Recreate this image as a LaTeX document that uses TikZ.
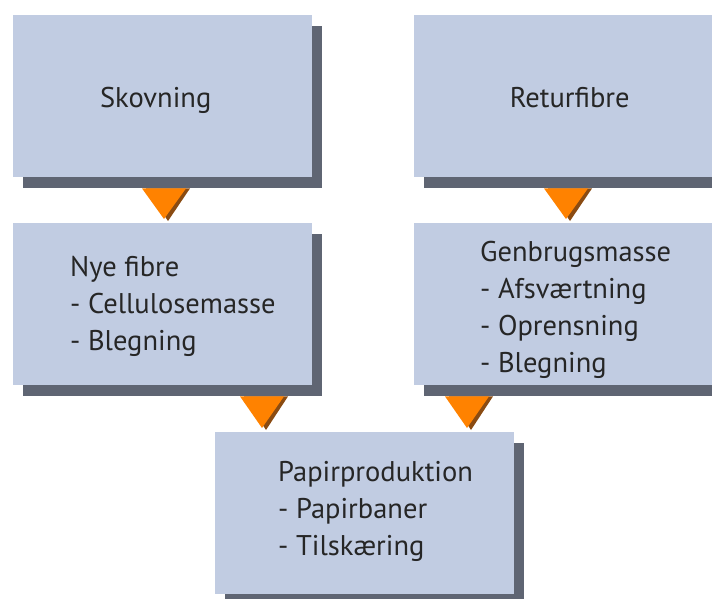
\documentclass[tikz,border=0pt]{standalone}
\usepackage{fontspec}
\setmainfont{PT Sans}
\usetikzlibrary{calc,shadows}
\definecolor{boksblaa}{HTML}{C1CCE2}
\definecolor{skygge}{HTML}{5F6573}
\definecolor{pilorange}{HTML}{FF8200}
\definecolor{pilbrun}{HTML}{8A4B12}
\definecolor{tekstgraa}{HTML}{262626}
\begin{document}
\begin{tikzpicture}[x=1pt, y=-1pt,
    boks/.style={fill=boksblaa, minimum width=299pt, minimum height=162pt,
      anchor=north west, inner sep=0pt,
      general shadow={fill=skygge, shadow xshift=10pt, shadow yshift=-11pt}},
    tekst/.style={text=tekstgraa, align=left, inner sep=0pt,
      font=\fontsize{28.5}{37}\selectfont},
    pil/.style={fill=pilorange},
    pilkant/.style={fill=pilbrun}]
    \useasboundingbox (0,0) rectangle (712,599);
    \clip (0,0) rectangle (712,599);
    % Các hộp
    \node[boks] (skov) at (13,15) {};
    \node[boks] (retur) at (414,15) {};
    \node[boks] (nye) at (13,223) {};
    \node[boks] (genbrug) at (414,223) {};
    \node[boks] (papir) at (215,432) {};

    % Chữ trong hộp (base = dòng cuối)
    \node[tekst, anchor=base] (skovtekst) at ([xshift=-7pt,yshift=-11pt]skov.center) {Skovning};
    \node[tekst, anchor=base] (returtekst) at ([xshift=6pt,yshift=-11pt]retur.center) {Returfibre};
    \node[tekst, anchor=base west] (nyetekst) at ([xshift=57pt,yshift=-46pt]nye.west)
        {Nye fibre\\- Cellulosemasse\\- Blegning};
    \node[tekst, anchor=base west] (genbrugtekst) at ([xshift=66pt,yshift=-68pt]genbrug.west)
        {Genbrugsmasse\\- Afsværtning\\- Oprensning\\- Blegning};
    \node[tekst, anchor=base west] (papirtekst) at ([xshift=63pt,yshift=-42pt]papir.west)
        {Papirproduktion\\- Papirbaner\\- Tilskæring};

    % Mũi tên tam giác
    \foreach \fra/\til/\mx in {skov/nye/164, retur/genbrug/566, nye/papir/262, genbrug/papir/467} {
        \fill[pilkant] let \p1=(\fra.south), \p2=(\til.north) in
            (\mx pt-18pt,\y1-11pt) -- (\mx pt+26pt,\y1-11pt) -- (\mx pt+4pt,\y2+2pt) -- cycle;
        \fill[pil] let \p1=(\fra.south), \p2=(\til.north) in
            (\mx pt-22pt,\y1-11pt) -- (\mx pt+22pt,\y1-11pt) -- (\mx pt,\y2+4pt) -- cycle;
    }
\end{tikzpicture}
\end{document}
